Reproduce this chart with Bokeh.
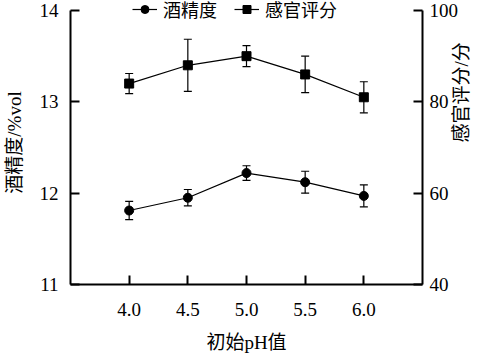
import math
from bokeh.plotting import figure
from bokeh.models import (ColumnDataSource, Range1d, LinearAxis, FixedTicker,
                          Whisker, TeeHead, Legend, LegendItem)
from bokeh.embed import file_html
from bokeh.resources import INLINE

ph = [4.0, 4.5, 5.0, 5.5, 6.0]
ph_labels = ["4.0", "4.5", "5.0", "5.5", "6.0"]
alcohol = [11.81, 11.95, 12.22, 12.12, 11.97]
alcohol_err = [0.10, 0.09, 0.08, 0.12, 0.12]
sensory = [84.0, 88.0, 90.0, 86.0, 81.0]
sensory_err = [2.2, 5.7, 2.3, 4.0, 3.4]
left_ticks = [11, 12, 13, 14]
right_ticks = [40, 60, 80, 100]

FONT = "Liberation Serif, Times New Roman, Noto Sans CJK SC"

src_a = ColumnDataSource(dict(x=ph, y=alcohol,
                              lo=[v - e for v, e in zip(alcohol, alcohol_err)],
                              hi=[v + e for v, e in zip(alcohol, alcohol_err)]))
src_s = ColumnDataSource(dict(x=ph, y=sensory,
                              lo=[v - e for v, e in zip(sensory, sensory_err)],
                              hi=[v + e for v, e in zip(sensory, sensory_err)]))

# frame spans 0..284 px; axes drawn only over 11..14 / 40..100 (top at 10 px)
pad_frac = 10 / 274
p = figure(width=489, height=355, output_backend="svg", toolbar_location=None,
           x_range=Range1d(3.5, 6.5), y_range=Range1d(11, 14 + 3 * pad_frac),
           min_border_left=67, min_border_right=67, min_border_top=0, min_border_bottom=71)
p.extra_y_ranges = {"r": Range1d(40, 100 + 60 * pad_frac)}
p.outline_line_color = None
p.xgrid.visible = False
p.ygrid.visible = False
p.background_fill_color = "white"
p.border_fill_color = "white"

raxis = LinearAxis(y_range_name="r")
p.add_layout(raxis, "right")

def style_axis(ax, ticks):
    ax.ticker = FixedTicker(ticks=ticks)
    ax.bounds = (min(ticks), max(ticks))
    ax.axis_line_color = "black"
    ax.axis_line_width = 2
    ax.major_tick_line_width = 2
    ax.major_tick_in = 9
    ax.major_tick_out = 0
    ax.minor_tick_line_color = None
    ax.major_label_text_font = FONT
    ax.major_label_text_font_size = "19px"
    ax.major_label_text_color = "black"
    ax.axis_label_text_font = FONT
    ax.axis_label_text_font_size = "19px"
    ax.axis_label_text_font_style = "normal"
    ax.axis_label_text_color = "black"

style_axis(p.xaxis[0], ph)
p.xaxis[0].bounds = (3.5, 6.5)
p.xaxis[0].major_label_overrides = {v: s for v, s in zip(ph, ph_labels)}
p.xaxis[0].axis_label = "初始pH值"
p.xaxis[0].major_label_standoff = 18
p.xaxis[0].axis_label_standoff = 13
style_axis(p.yaxis[0], left_ticks)
p.yaxis[0].axis_label = "酒精度/%vol"
p.yaxis[0].major_label_standoff = 12
p.yaxis[0].axis_label_standoff = 12
style_axis(raxis, right_ticks)
raxis.axis_label = "感官评分/分"
raxis.major_label_standoff = 7
raxis.axis_label_standoff = 0
raxis.axis_label_orientation = math.pi / 2
raxis.axis_label_text_baseline = "top"

la = p.line("x", "y", source=src_a, line_color="black", line_width=1.2)
ma = p.scatter("x", "y", source=src_a, marker="circle", size=9, fill_color="black", line_color="black")
p.add_layout(Whisker(source=src_a, base="x", lower="lo", upper="hi", line_color="black", line_width=1.2,
                     upper_head=TeeHead(size=8, line_color="black", line_width=1.2),
                     lower_head=TeeHead(size=8, line_color="black", line_width=1.2)))

ls = p.line("x", "y", source=src_s, y_range_name="r", line_color="black", line_width=1.2)
ms = p.scatter("x", "y", source=src_s, y_range_name="r", marker="square", size=9,
               fill_color="black", line_color="black")
p.add_layout(Whisker(source=src_s, base="x", lower="lo", upper="hi", y_range_name="r",
                     line_color="black", line_width=1.2,
                     upper_head=TeeHead(size=8, line_color="black", line_width=1.2),
                     lower_head=TeeHead(size=8, line_color="black", line_width=1.2)))

legend = Legend(items=[LegendItem(label="酒精度", renderers=[la, ma]),
                       LegendItem(label="感官评分", renderers=[ls, ms])],
                orientation="horizontal", location=(62, 262),
                border_line_color=None, background_fill_alpha=0,
                padding=0, margin=0, spacing=17, glyph_width=25, glyph_height=20,
                label_standoff=6, label_text_font=FONT, label_text_font_size="18px",
                label_text_color="black")
p.add_layout(legend)

open("out.html", "w").write(file_html(p, INLINE))
